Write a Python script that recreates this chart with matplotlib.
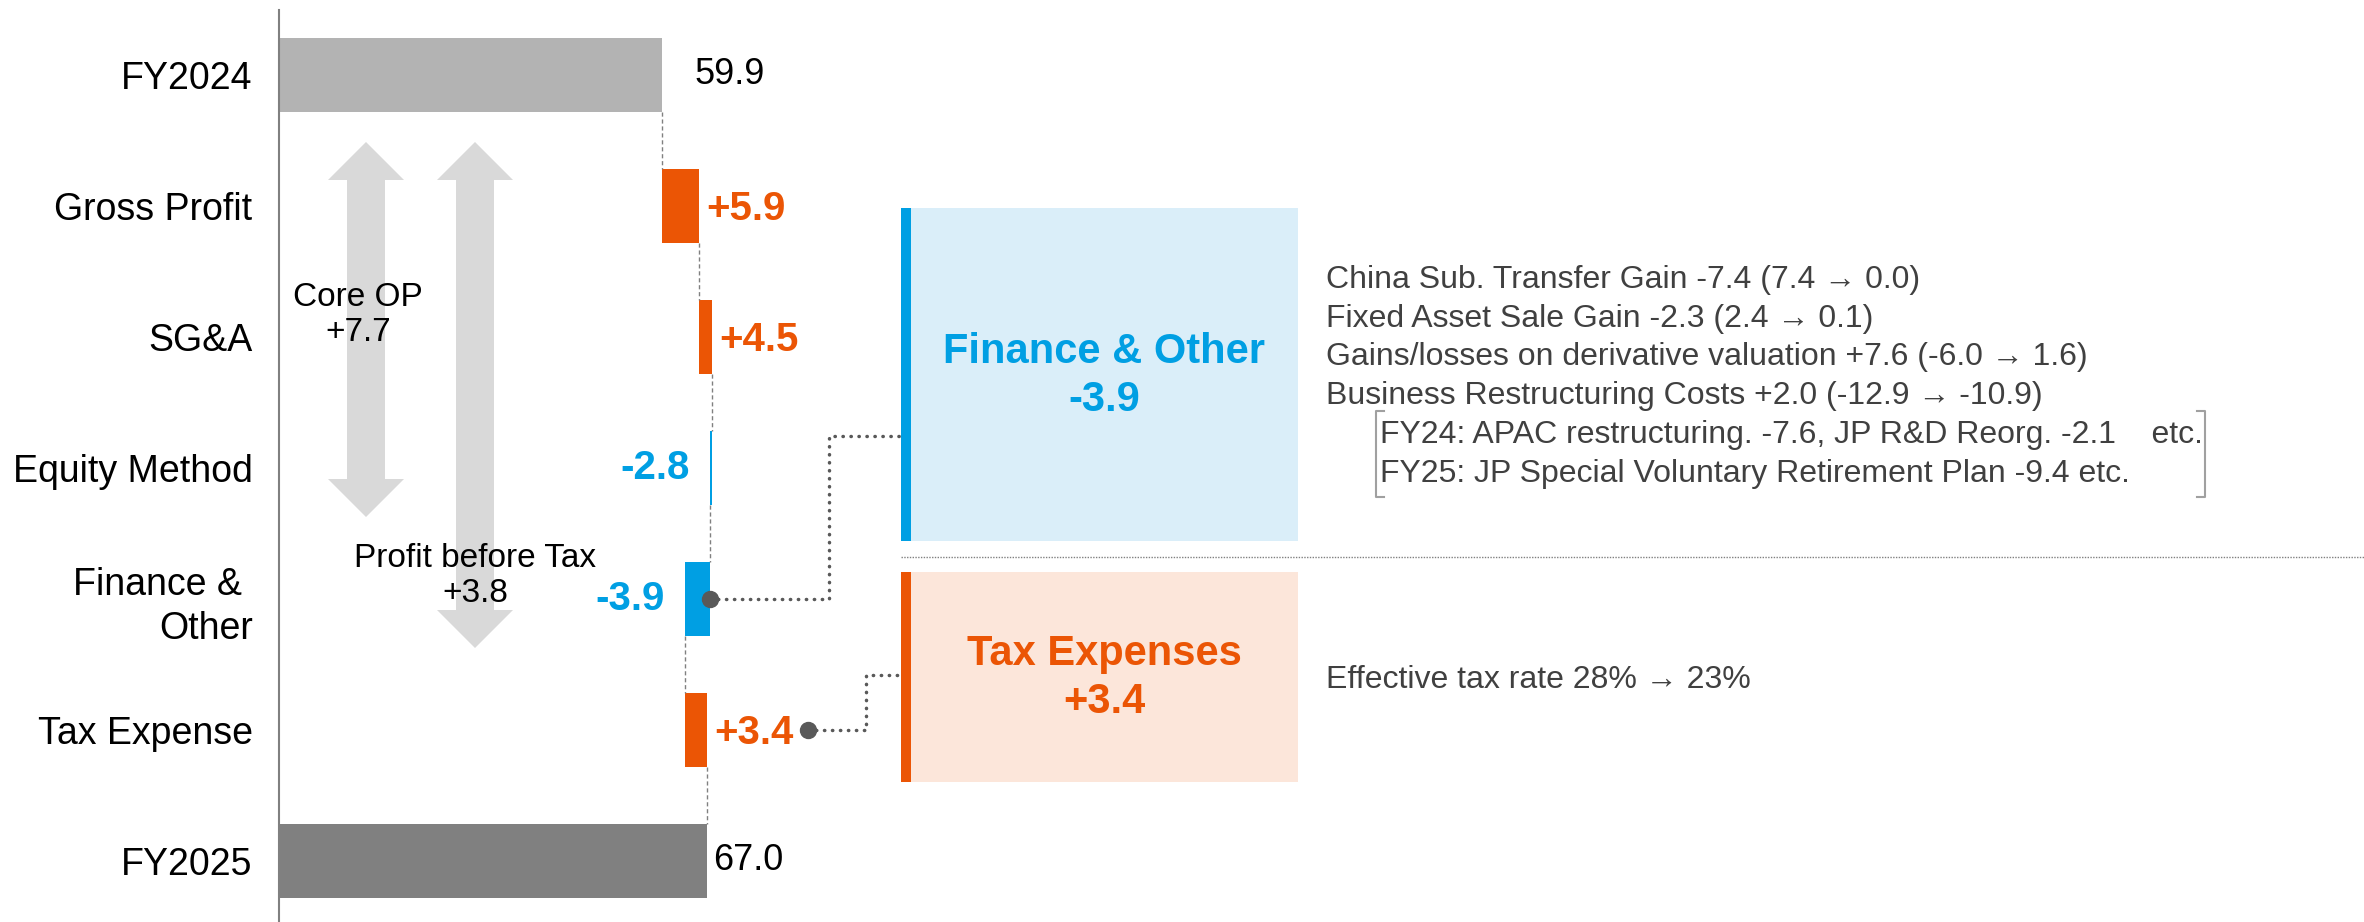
import numpy as np
import matplotlib.pyplot as plt
from matplotlib.patches import Polygon, Rectangle

plt.rcParams['font.family'] = ['Liberation Sans', 'DejaVu Sans']

# Данные
categories = ['FY2024', 'Gross Profit', 'SG&A', 'Equity Method',
              'Finance & \nOther', 'Tax Expense', 'FY2025']
start_total = 59.9
end_total = 67.0
# длины ступеней так, как они нарисованы на картинке
step_values = [5.9, 2.0, -0.3, -3.9, 3.4]
step_labels = ['+5.9', '+4.5', '-2.8', '-3.9', '+3.4']
total_labels = ['59.9', '67.0']

core_op_text = 'Core OP\n+7.7'
pbt_text = 'Profit before Tax\n+3.8'

finance_title = 'Finance & Other'
tax_title = 'Tax Expenses'
finance_notes = ['China Sub. Transfer Gain -7.4 (7.4 \u2192 0.0)',
                 'Fixed Asset Sale Gain -2.3 (2.4 \u2192 0.1)',
                 'Gains/losses on derivative valuation +7.6 (-6.0 \u2192 1.6)',
                 'Business Restructuring Costs +2.0 (-12.9 \u2192 -10.9)']
finance_sub_notes = ['FY24: APAC restructuring. -7.6, JP R&D Reorg. -2.1    etc.',
                     'FY25: JP Special Voluntary Retirement Plan -9.4 etc.']
tax_notes = ['Effective tax rate 28% \u2192 23%']

# Цвета
ORANGE = '#EB5505'
BLUE = '#009FE3'
GRAY_LIGHT = '#B3B3B3'
GRAY_DARK = '#808080'
TEXT_GRAY = '#404040'
DOT_GRAY = '#595959'

W, H = 2364, 922
fig = plt.figure(figsize=(W / 100, H / 100), dpi=100)

# Основная ось (водопад)
x0_px = 279
px_per_unit = 6.39
ax = fig.add_axes([x0_px / W, 0, 1 - x0_px / W, 912 / H])
ax.set_xlim(0, (W - x0_px) / px_per_unit)
ax.set_ylim(6.466, -0.496)

bar_h = 0.56
levels = np.concatenate([[start_total], start_total + np.cumsum(step_values)])

ax.barh(0, start_total, height=bar_h, color=GRAY_LIGHT, linewidth=0)
ax.barh(6, end_total, height=bar_h, color=GRAY_DARK, linewidth=0)
for i, v in enumerate(step_values):
    left = min(levels[i], levels[i + 1])
    ax.barh(i + 1, abs(v), left=left, height=bar_h,
            color=ORANGE if v > 0 else BLUE, linewidth=0)

# соединительные пунктиры
for i in range(6):
    ax.plot([levels[i], levels[i]], [i + bar_h / 2, i + 1 - bar_h / 2],
            color=GRAY_DARK, lw=1, ls=(0, (3, 2)))

# подписи значений
ax.annotate(total_labels[0], (start_total, 0), xytext=(33, 0), textcoords='offset pixels',
            va='center', ha='left', fontsize=26, color='black')
ax.annotate(total_labels[1], (end_total, 6), xytext=(6, 0), textcoords='offset pixels',
            va='center', ha='left', fontsize=26, color='black')
for i, (v, lab) in enumerate(zip(step_values, step_labels)):
    if v > 0:
        ax.annotate(lab, (levels[i + 1], i + 1), xytext=(7, -3), textcoords='offset pixels',
                    va='center', ha='left', fontsize=29, fontweight='bold', color=ORANGE)
    else:
        ax.annotate(lab, (levels[i + 1], i + 1), xytext=(-21, 0), textcoords='offset pixels',
                    va='center', ha='right', fontsize=29, fontweight='bold', color=BLUE)

ax.set_yticks(range(len(categories)))
ax.set_yticklabels(categories, fontsize=27)
ax.get_yticklabels()[4].set_linespacing(1.3)
ax.tick_params(axis='y', length=0, pad=19)
ax.set_xticks([])
for s in ['top', 'right', 'bottom']:
    ax.spines[s].set_visible(False)
ax.spines['left'].set_color(GRAY_DARK)
ax.spines['left'].set_linewidth(1.5)

# Накладная ось в пикселях для пояснений
ov = fig.add_axes([0, 0, 1, 1])
ov.set_xlim(0, W)
ov.set_ylim(H, 0)
ov.axis('off')
ov.patch.set_alpha(0)


def to_px(x, y):
    dx, dy = ax.transData.transform((x, y))
    return dx, H - dy


def double_arrow(cx, top, bottom, sw=19, hw=38, hl=38):
    pts = [(cx, top), (cx + hw, top + hl), (cx + sw, top + hl), (cx + sw, bottom - hl),
           (cx + hw, bottom - hl), (cx, bottom), (cx - hw, bottom - hl), (cx - sw, bottom - hl),
           (cx - sw, top + hl), (cx - hw, top + hl)]
    ov.add_patch(Polygon(pts, closed=True, color='#D9D9D9', lw=0, zorder=1))


double_arrow(366, 142, 517)
double_arrow(475, 142, 648)
ov.text(358, 315, core_op_text, ha='center', va='center', fontsize=24, zorder=3)
ov.text(475, 576, pbt_text, ha='center', va='center', fontsize=24, zorder=3)

# Блоки справа
ov.add_patch(Rectangle((901, 208), 397, 333, color='#DAEEF9', lw=0))
ov.add_patch(Rectangle((901, 208), 10, 333, color=BLUE, lw=0))
ov.add_patch(Rectangle((901, 572), 397, 210, color='#FCE6DA', lw=0))
ov.add_patch(Rectangle((901, 572), 10, 210, color=ORANGE, lw=0))
ov.text(1104, 376, finance_title + '\n' + step_labels[3], ha='center', va='center',
        fontsize=30, fontweight='bold', color=BLUE, linespacing=1.25)
ov.text(1104, 678, tax_title + '\n' + step_labels[4], ha='center', va='center',
        fontsize=30, fontweight='bold', color=ORANGE, linespacing=1.25)

ov.plot([901, W], [557, 557], color=GRAY_DARK, lw=1, ls=(0, (1, 1)))

# Пояснительный текст
for k, line in enumerate(finance_notes):
    ov.text(1326, 280 + 38.5 * k, line, va='center', ha='left', fontsize=23, color=TEXT_GRAY)
for k, line in enumerate(finance_sub_notes):
    ov.text(1380, 435 + 38.5 * k, line, va='center', ha='left', fontsize=23, color=TEXT_GRAY)
ov.text(1326, 680, tax_notes[0], va='center', ha='left', fontsize=23, color=TEXT_GRAY)

# скобки
ov.plot([1384, 1376, 1376, 1384], [411, 411, 497, 497], color='#A0A0A0', lw=1.5)
ov.plot([2197, 2205, 2205, 2197], [411, 411, 497, 497], color='#A0A0A0', lw=1.5)

# выноски с точками
fx, fy = to_px(levels[3], 4)
ov.plot([fx, 829, 829, 901], [fy, fy, 436, 436], color=DOT_GRAY, lw=2.5,
        ls=(0, (0.1, 2.2)), dash_capstyle='round')
ov.plot([fx], [fy], 'o', color=DOT_GRAY, ms=11.5)

tx, ty = to_px(levels[5], 5)
tx = tx + 101
ov.plot([tx, 866, 866, 901], [ty, ty, 675, 675], color=DOT_GRAY, lw=2.5,
        ls=(0, (0.1, 2.2)), dash_capstyle='round')
ov.plot([tx], [ty], 'o', color=DOT_GRAY, ms=11.5)

fig.savefig('out.png', dpi=100)
